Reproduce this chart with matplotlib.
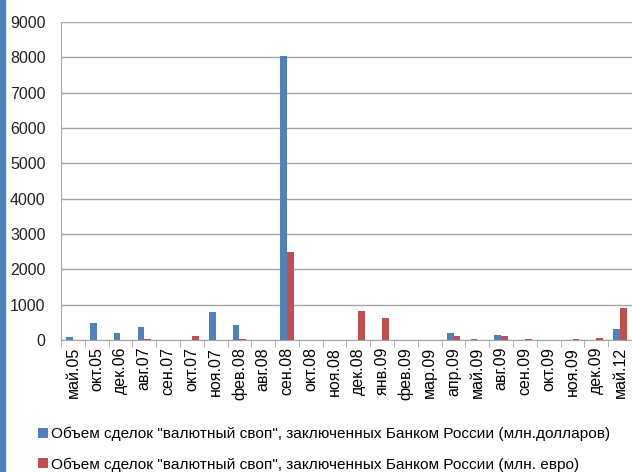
import numpy as np
import matplotlib.pyplot as plt
from matplotlib.patches import Rectangle

# months and swap volumes
months = ["май.05", "окт.05", "дек.06", "авг.07", "сен.07", "окт.07", "ноя.07",
          "фев.08", "авг.08", "сен.08", "окт.08", "ноя.08", "дек.08", "янв.09",
          "фев.09", "мар.09", "апр.09", "май.09", "авг.09", "сен.09", "окт.09",
          "ноя.09", "дек.09", "май.12"]
usd = [80, 470, 200, 380, 0, 0, 800, 415, 0, 8050, 0, 0, 0, 0,
       0, 0, 190, 40, 130, 0, 0, 0, 0, 300]
eur = [0, 0, 0, 30, 0, 110, 0, 30, 0, 2480, 0, 0, 820, 615,
       0, 0, 110, 0, 110, 25, 0, 20, 60, 900]

label_usd = 'Объем сделок "валютный своп", заключенных Банком России (млн.долларов)'
label_eur = 'Объем сделок "валютный своп", заключенных Банком России (млн. евро)'

plt.rcParams['font.family'] = ['Liberation Sans', 'DejaVu Sans']

fig = plt.figure(figsize=(6.32, 4.72), dpi=100)
ax = fig.add_axes([61 / 632, 1 - 340 / 472, 1 - 61 / 632, 318 / 472])

x = np.arange(len(months))
w = 0.28
blue = "#4f81bd"
red = "#c0504d"
ax.bar(x - w / 2, usd, width=w, color=blue, label=label_usd, zorder=3)
ax.bar(x + w / 2, eur, width=w, color=red, label=label_eur, zorder=3)

ax.set_xlim(-0.5, len(months) - 0.5)
ax.set_ylim(0, 9000)
ax.set_yticks(range(0, 9001, 1000))
ax.yaxis.grid(True, color="#a6a6a6", linewidth=1, zorder=0)
ax.tick_params(axis="y", length=0, labelsize=11.5, pad=11, colors="#222222")

ax.set_xticks(x)
ax.set_xticklabels(months, rotation=90, fontsize=11.5)
ax.set_xticks(np.arange(-0.5, len(months), 1), minor=True)
ax.tick_params(axis="x", which="major", length=0, pad=5)
ax.tick_params(axis="x", which="minor", length=5, color="#a6a6a6")

for side in ["top", "right"]:
    ax.spines[side].set_visible(False)
ax.spines["left"].set_color("#a6a6a6")
ax.spines["bottom"].set_color("#a6a6a6")

fig.legend(loc="lower left", bbox_to_anchor=(26 / 632, -12 / 472), frameon=False,
           fontsize=11.1, handlelength=0.6, handleheight=0.6, handletextpad=0.25,
           labelspacing=1.05, borderaxespad=0.4)

# blue strip along the left edge
fig.add_artist(Rectangle((0, 0), 5 / 632, 1, transform=fig.transFigure,
                         color=blue, zorder=5))

fig.savefig("out.png", dpi=100)
